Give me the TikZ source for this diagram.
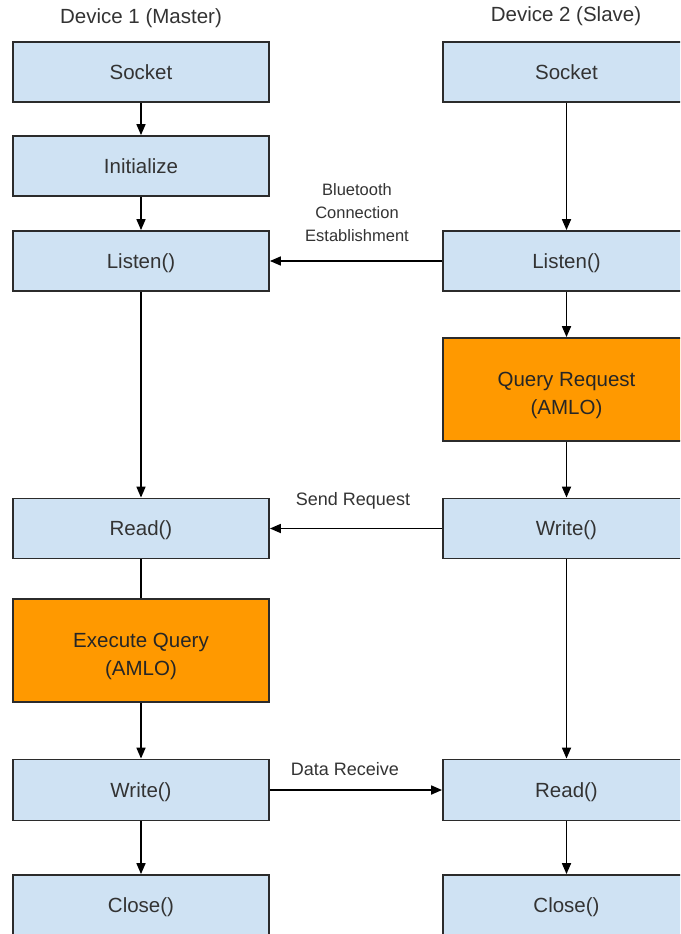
\documentclass[tikz,border=0pt]{standalone}
\usepackage{fontspec}
\setmainfont{Liberation Sans}
\usetikzlibrary{arrows.meta}
\definecolor{boxblue}{HTML}{CFE2F3}
\definecolor{boxorange}{HTML}{FF9900}
\definecolor{edge}{HTML}{2B2B2B}
\definecolor{ink}{HTML}{333333}
\tikzset{
  stepbox/.style={draw=edge, line width=1.8pt, fill=boxblue, text=ink,
    minimum height=60pt, inner sep=0pt, text depth=0pt,
    font=\fontsize{20.5}{28}\selectfont},
  leftbox/.style={stepbox, minimum width=256pt},
  rightbox/.style={stepbox, minimum width=247pt},
  querybox/.style={fill=boxorange, text=black!85, minimum height=103pt,
    align=center, text depth=0pt, text height=49.5pt},
  title/.style={text=ink, font=\fontsize{20.5}{24}\selectfont},
  msg/.style={text=ink, font=\fontsize{18}{23}\selectfont, align=center},
  msgsmall/.style={text=ink, font=\fontsize{16.5}{23}\selectfont, align=center},
  flow/.style={draw=black, line width=1.7pt, -{Triangle[length=11pt,width=9pt]}},
  plain/.style={draw=black, line width=1.7pt}
}
\begin{document}
\begin{tikzpicture}[x=1pt, y=-1pt]
  \clip (0,0) rectangle (680,934);
  \fill[white] (0,0) rectangle (680,934);

  % column headings
  \node[title] (h1) at (141,18) {Device 1 (Master)};
  \node[title] (h2) at (566,16) {Device 2 (Slave)};

  % master side
  \node[leftbox] (s1) at (141,72) {Socket};
  \node[leftbox] (i1) at (141,166) {Initialize};
  \node[leftbox] (l1) at (141,261) {Listen()};
  \node[leftbox] (rd1) at (141,528.5) {Read()};
  \node[leftbox, querybox] (e1) at (141,650.5) {Execute Query\\(AMLO)};
  \node[leftbox, minimum height=61pt] (w1) at (141,790) {Write()};
  \node[leftbox] (c1) at (141,905) {Close()};

  % slave side
  \node[rightbox] (s2) at (566.5,72) {Socket};
  \node[rightbox] (l2) at (566.5,261) {Listen()};
  \node[rightbox, querybox] (q2) at (566.5,389.5) {Query Request\\(AMLO)};
  \node[rightbox] (w2) at (566.5,528.5) {Write()};
  \node[rightbox, minimum height=61pt] (rd2) at (566.5,790) {Read()};
  \node[rightbox] (c2) at (566.5,905) {Close()};

  % vertical flow, master
  \draw[flow] (s1) -- (i1);
  \draw[flow] (i1) -- (l1);
  \draw[flow] (l1) -- (rd1);
  \draw[plain] (rd1) -- (e1);
  \draw[flow] (e1) -- (w1);
  \draw[flow] (w1) -- (c1);

  % vertical flow, slave
  \draw[flow] (s2) -- (l2);
  \draw[flow] (l2) -- (q2);
  \draw[flow] (q2) -- (w2);
  \draw[flow] (w2) -- (rd2);
  \draw[flow] (rd2) -- (c2);

  % messages between the devices
  \draw[flow] (l2.west) -- (l1.east);
  \draw[flow] (w2.west) -- (rd1.east);
  \draw[flow] (w1.east) -- (rd2.west);

  \node[msgsmall] (m1) at (357,213) {Bluetooth\\Connection\\Establishment};
  \node[msg] (m2) at (353,501) {Send Request};
  \node[msg] (m3) at (345,769) {Data Receive};
\end{tikzpicture}
\end{document}
